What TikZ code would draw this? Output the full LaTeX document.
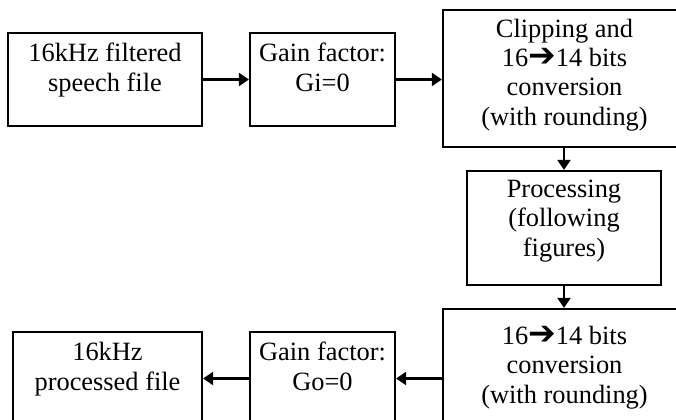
\documentclass[tikz,border=0pt]{standalone}
\usepackage{fontspec}
\setmainfont{Liberation Serif}
\newfontfamily\arrowfont{DejaVu Sans}
\usetikzlibrary{arrows.meta}
\newcommand{\harr}{{\arrowfont\fontsize{16.5}{14.6}\selectfont ➔}}
\begin{document}
\begin{tikzpicture}[x=0.5pt,y=-0.5pt,
  box/.style={draw, line width=1.1pt, inner sep=0pt},
  txt/.style={align=center, inner sep=0pt, anchor=base, font=\fontsize{13.2}{14.6}\selectfont},
  conn/.style={line width=1.1pt, -{Triangle[length=5pt,width=6.5pt]}}]
\useasboundingbox (0,0) rectangle (676,419);
\clip (0,0) rectangle (676,419);
% boxes
\node[box, minimum width=97pt, minimum height=46.5pt] (a) at (105,79.5) {};
\node[box, minimum width=72.5pt, minimum height=46.5pt] (b) at (322.5,79.5) {};
\node[box, minimum width=121.5pt, minimum height=68.5pt] (c) at (564.5,78.5) {};
\node[box, minimum width=97pt, minimum height=57pt] (d) at (564,228) {};
\node[box, minimum width=121.5pt, minimum height=68.5pt] (e) at (564.5,377.5) {};
\node[box, minimum width=72.5pt, minimum height=46.5pt] (f) at (322.5,378.5) {};
\node[box, minimum width=94.5pt, minimum height=46.5pt] (g) at (107.5,378.5) {};
% texts (anchored at the baseline of their last line)
\node[txt] (at) at (105,91) {16kHz filtered\\speech file};
\node[txt] (bt) at (322.5,91) {Gain factor:\\Gi=0};
\node[txt] (ct) at (564.5,125) {Clipping and\\16\harr14 bits\\conversion\\(with rounding)};
\node[txt] (dt) at (564,256) {Processing\\(following\\figures)};
\node[txt] (et) at (564.5,403) {16\harr14 bits\\conversion\\(with rounding)};
\node[txt] (ft) at (322.5,390) {Gain factor:\\Go=0};
\node[txt] (gt) at (107.5,390) {16kHz\\processed file};
% connectors
\draw[conn] (a.east) -- (b.west |- a.east);
\draw[conn] (b.east) -- (c.west |- b.east);
\draw[conn] (c.south -| d.north) -- (d.north);
\draw[conn] (d.south) -- (e.north -| d.south);
\draw[conn] (e.west |- f.east) -- (f.east);
\draw[conn] (f.west) -- (g.east |- f.west);
\end{tikzpicture}
\end{document}
